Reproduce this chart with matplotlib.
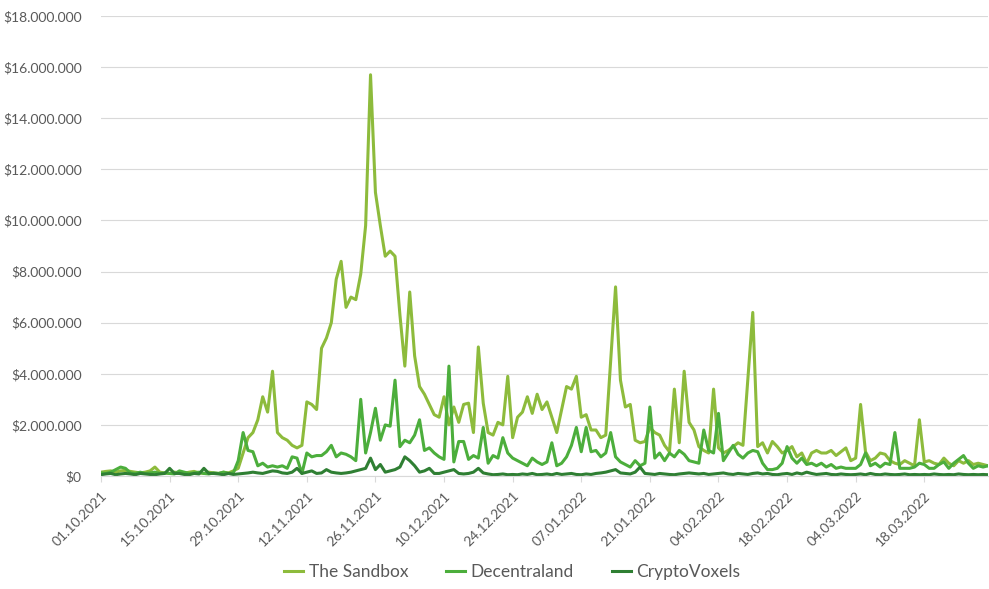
import numpy as np
import pandas as pd
import matplotlib
matplotlib.use("Agg")
import matplotlib.pyplot as plt
from matplotlib.ticker import FuncFormatter, MultipleLocator

# daily trading volume in USD millions, 01.10.2021 - 31.03.2022
dates = pd.date_range("2021-10-01", "2022-03-31", freq="D")

sandbox = [
    0.15, 0.18, 0.2, 0.15, 0.2, 0.22, 0.18, 0.15, 0.12, 0.15, 0.2, 0.35, 0.15, 0.12,
    0.1, 0.15, 0.12, 0.1, 0.15, 0.18, 0.12, 0.1, 0.15, 0.12, 0.1, 0.15, 0.12, 0.2,
    0.3, 0.9, 1.5, 1.7, 2.2, 3.1, 2.5, 4.1, 1.7, 1.5, 1.4, 1.2, 1.1, 1.2,
    2.9, 2.8, 2.6, 5.0, 5.4, 6.0, 7.7, 8.4, 6.6, 7.0, 6.9, 7.9, 9.8, 15.7,
    11.1, 9.8, 8.6, 8.8, 8.6, 6.3, 4.3, 7.2, 4.7, 3.5, 3.2, 2.8, 2.4, 2.3,
    3.1, 2.0, 2.7, 2.1, 2.8, 2.85, 1.7, 5.05, 2.85, 1.7, 1.6, 2.1, 2.0, 3.9,
    1.5, 2.3, 2.5, 3.1, 2.45, 3.2, 2.6, 2.9, 2.3, 1.7, 2.6, 3.5, 3.4, 3.9,
    2.3, 2.4, 1.8, 1.8, 1.5, 1.6, 4.5, 7.4, 3.75, 2.7, 2.8, 1.4, 1.3, 1.35,
    1.9, 1.7, 1.6, 1.2, 0.95, 3.4, 1.3, 4.1, 2.1, 1.8, 1.15, 1.0, 0.9, 3.4,
    1.1, 0.9, 1.0, 1.15, 1.3, 1.2, 3.8, 6.4, 1.15, 1.3, 0.9, 1.35, 1.15, 0.9,
    1.0, 1.15, 0.75, 0.9, 0.5, 0.9, 1.0, 0.9, 0.9, 1.0, 0.8, 0.95, 1.1, 0.6,
    0.7, 2.8, 0.95, 0.6, 0.7, 0.9, 0.85, 0.6, 0.5, 0.45, 0.6, 0.5, 0.4, 2.2,
    0.55, 0.6, 0.5, 0.45, 0.7, 0.5, 0.4, 0.6, 0.5, 0.6, 0.45, 0.5, 0.45, 0.4,
]

decentraland = [
    0.12, 0.1, 0.15, 0.25, 0.35, 0.3, 0.12, 0.1, 0.15, 0.1, 0.12, 0.15, 0.1, 0.12,
    0.1, 0.08, 0.2, 0.15, 0.1, 0.12, 0.15, 0.1, 0.08, 0.12, 0.1, 0.15, 0.1, 0.12,
    0.6, 1.7, 1.0, 0.95, 0.4, 0.5, 0.35, 0.4, 0.35, 0.4, 0.3, 0.75, 0.7, 0.1,
    0.9, 0.75, 0.8, 0.8, 0.95, 1.2, 0.75, 0.9, 0.85, 0.75, 0.6, 3.0, 0.9, 1.7,
    2.65, 1.4, 2.0, 1.95, 3.75, 1.15, 1.4, 1.3, 1.6, 2.2, 1.0, 1.1, 0.9, 0.75,
    0.65, 4.3, 0.55, 1.35, 1.35, 0.65, 0.8, 0.7, 1.9, 0.5, 0.8, 0.7, 1.5, 0.9,
    0.7, 0.6, 0.5, 0.4, 0.7, 0.55, 0.45, 0.55, 1.3, 0.4, 0.5, 0.75, 1.2, 1.9,
    0.95, 1.9, 0.95, 1.0, 0.75, 0.9, 1.7, 0.75, 0.55, 0.45, 0.35, 0.6, 0.4, 0.5,
    2.7, 0.7, 0.9, 0.6, 0.9, 0.75, 1.0, 0.85, 0.6, 0.55, 0.5, 1.8, 1.0, 0.9,
    2.45, 0.6, 0.9, 1.2, 0.85, 0.7, 0.9, 1.0, 0.95, 0.5, 0.25, 0.25, 0.3, 0.5,
    1.15, 0.7, 0.5, 0.7, 0.45, 0.5, 0.4, 0.5, 0.35, 0.45, 0.3, 0.35, 0.3, 0.3,
    0.3, 0.45, 0.9, 0.4, 0.5, 0.35, 0.5, 0.45, 1.7, 0.3, 0.3, 0.3, 0.35, 0.5,
    0.45, 0.3, 0.3, 0.45, 0.55, 0.3, 0.5, 0.65, 0.8, 0.5, 0.3, 0.4, 0.35, 0.4,
]

cryptovoxels = [
    0.05, 0.08, 0.1, 0.05, 0.08, 0.1, 0.08, 0.05, 0.1, 0.08, 0.06, 0.05, 0.08, 0.1,
    0.3, 0.1, 0.1, 0.06, 0.05, 0.1, 0.08, 0.3, 0.1, 0.1, 0.08, 0.05, 0.1, 0.06,
    0.08, 0.1, 0.12, 0.15, 0.12, 0.1, 0.15, 0.2, 0.18, 0.12, 0.1, 0.15, 0.3, 0.1,
    0.15, 0.2, 0.1, 0.12, 0.25, 0.15, 0.12, 0.1, 0.12, 0.15, 0.2, 0.25, 0.3, 0.7,
    0.25, 0.45, 0.15, 0.2, 0.25, 0.35, 0.75, 0.6, 0.4, 0.15, 0.2, 0.3, 0.1, 0.1,
    0.15, 0.2, 0.25, 0.1, 0.08, 0.1, 0.15, 0.3, 0.12, 0.08, 0.05, 0.06, 0.08, 0.05,
    0.06, 0.05, 0.08, 0.06, 0.1, 0.05, 0.06, 0.08, 0.05, 0.1, 0.06, 0.08, 0.1, 0.06,
    0.05, 0.08, 0.06, 0.1, 0.12, 0.15, 0.2, 0.25, 0.12, 0.1, 0.08, 0.15, 0.35, 0.1,
    0.08, 0.06, 0.1, 0.08, 0.06, 0.05, 0.08, 0.1, 0.12, 0.1, 0.08, 0.1, 0.06, 0.08,
    0.1, 0.12, 0.08, 0.06, 0.1, 0.08, 0.06, 0.1, 0.12, 0.08, 0.1, 0.06, 0.05, 0.08,
    0.1, 0.06, 0.12, 0.08, 0.15, 0.1, 0.06, 0.08, 0.1, 0.06, 0.05, 0.08, 0.06, 0.05,
    0.06, 0.08, 0.05, 0.1, 0.06, 0.05, 0.08, 0.06, 0.05, 0.06, 0.08, 0.05, 0.06, 0.05,
    0.06, 0.05, 0.08, 0.06, 0.05, 0.06, 0.05, 0.08, 0.06, 0.05, 0.06, 0.05, 0.06, 0.05,
]

series = [
    ("The Sandbox", sandbox, "#8dbb3c"),
    ("Decentraland", decentraland, "#4cae3c"),
    ("CryptoVoxels", cryptovoxels, "#2f7f33"),
]

plt.rcParams["font.family"] = ["Lato", "DejaVu Sans"]

fig = plt.figure(figsize=(9.89, 5.89), dpi=100)
ax = fig.add_axes([101 / 989, 1 - 476 / 589, 887 / 989, 460 / 589])

x = np.arange(len(dates))
for name, vals, color in series:
    ax.plot(x, np.array(vals) * 1e6, color=color, linewidth=2.2, label=name,
            solid_joinstyle="round")

ax.set_xlim(0, len(dates) - 1)
ax.set_ylim(0, 18e6)
ax.yaxis.set_major_locator(MultipleLocator(2e6))


def money(v, pos):
    if v == 0:
        return "$0"
    return "$" + f"{int(round(v)):,}".replace(",", ".")


ax.yaxis.set_major_formatter(FuncFormatter(money))

tick_pos = x[::14]
ax.set_xticks(tick_pos)
ax.set_xticklabels([dates[i].strftime("%d.%m.%Y") for i in tick_pos],
                   rotation=45, ha="right", rotation_mode="anchor")

ax.grid(axis="y", color="#d9d9d9", linewidth=0.8)
ax.set_axisbelow(True)
for s in ["top", "right", "left"]:
    ax.spines[s].set_visible(False)
ax.spines["bottom"].set_color("#d9d9d9")
ax.tick_params(axis="y", length=0, labelsize=10, labelcolor="#595959", pad=14)
ax.tick_params(axis="x", length=4, color="#d9d9d9", labelsize=10,
               labelcolor="#595959", pad=6)

fig.legend(loc="lower center", bbox_to_anchor=(0.518, -0.012), ncol=3,
           frameon=False, fontsize=12.5, labelcolor="#595959",
           handlelength=1.1, handletextpad=0.3, columnspacing=2.2)

fig.savefig("out.png", dpi=100)
